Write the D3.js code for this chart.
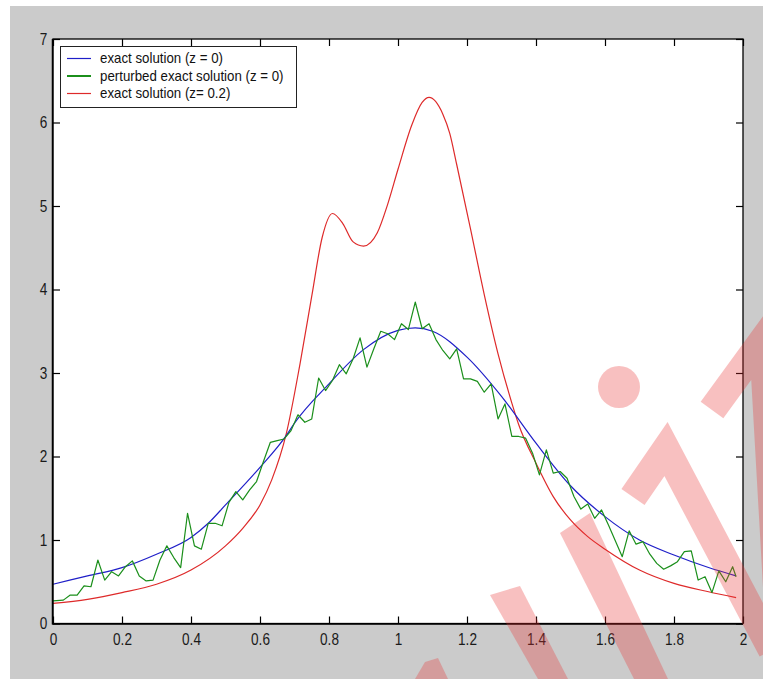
<!DOCTYPE html>
<html>
<head>
<meta charset="utf-8">
<script src="https://cdn.jsdelivr.net/npm/d3@7"></script>
<style>
  html, body { margin: 0; padding: 0; background: #ffffff; }
  svg { display: block; }
  text { font-family: "Liberation Sans", Arial, Helvetica, sans-serif; }
</style>
</head>
<body>
<svg id="chart" width="763" height="679"></svg>
<script>
// ---- data -------------------------------------------------------------
// exact solution, z = 0
const exactX = [0, 0.1, 0.2, 0.3, 0.4, 0.45, 0.5, 0.6, 0.676, 0.7, 0.8, 0.9, 1.0, 1.05, 1.1, 1.2, 1.3, 1.4, 1.5, 1.6, 1.7, 1.8, 1.9, 1.98];
const exactY = [0.47, 0.57, 0.67, 0.83, 1.03, 1.20, 1.42, 1.87, 2.25, 2.40, 2.87, 3.28, 3.51, 3.54, 3.50, 3.19, 2.72, 2.16, 1.65, 1.28, 1.00, 0.82, 0.67, 0.57];

// perturbed exact solution, z = 0
const pertX = [0.00, 0.03, 0.05, 0.07, 0.09, 0.11, 0.13, 0.15, 0.17, 0.19, 0.21, 0.23, 0.25, 0.27, 0.29,
  0.31, 0.33, 0.35, 0.37, 0.39, 0.41, 0.43, 0.45, 0.47, 0.49, 0.51, 0.53, 0.55, 0.57, 0.59,
  0.61, 0.63, 0.65, 0.67, 0.69, 0.71, 0.73, 0.75, 0.77, 0.79, 0.81, 0.83, 0.85, 0.87, 0.89,
  0.91, 0.93, 0.95, 0.97, 0.99, 1.01, 1.03, 1.05, 1.07, 1.09, 1.11, 1.13, 1.15, 1.17, 1.19,
  1.21, 1.23, 1.25, 1.27, 1.29, 1.31, 1.33, 1.35, 1.37, 1.39, 1.41, 1.43, 1.45, 1.47, 1.49,
  1.51, 1.53, 1.55, 1.57, 1.59, 1.61, 1.65, 1.67, 1.69, 1.71, 1.73, 1.75, 1.77, 1.79, 1.81,
  1.83, 1.85, 1.87, 1.89, 1.91, 1.93, 1.95, 1.97, 1.98];
const pertY = [0.27, 0.28, 0.34, 0.34, 0.45, 0.44, 0.76, 0.52, 0.62, 0.57, 0.68, 0.75, 0.57, 0.51, 0.52,
  0.76, 0.93, 0.79, 0.67, 1.32, 0.93, 0.89, 1.20, 1.20, 1.17, 1.45, 1.58, 1.48, 1.60, 1.70,
  1.94, 2.17, 2.19, 2.21, 2.31, 2.50, 2.41, 2.45, 2.94, 2.79, 2.91, 3.10, 2.99, 3.17, 3.42,
  3.07, 3.29, 3.50, 3.47, 3.40, 3.59, 3.52, 3.85, 3.53, 3.59, 3.40, 3.27, 3.17, 3.29, 2.93,
  2.93, 2.90, 2.77, 2.87, 2.45, 2.63, 2.24, 2.24, 2.22, 2.04, 1.78, 2.08, 1.80, 1.82, 1.74,
  1.52, 1.37, 1.43, 1.26, 1.36, 1.18, 0.80, 1.11, 0.95, 0.98, 0.83, 0.72, 0.65, 0.69, 0.74,
  0.86, 0.87, 0.52, 0.56, 0.37, 0.63, 0.50, 0.68, 0.56];

// exact solution, z = 0.2
const shiftedX = [0, 0.1, 0.2, 0.3, 0.4, 0.5, 0.55, 0.6, 0.634, 0.676, 0.716, 0.75, 0.78, 0.81, 0.84, 0.87, 0.9, 0.94, 0.97,
  1.0, 1.04, 1.07, 1.09, 1.13, 1.15, 1.17, 1.21, 1.25, 1.29, 1.33, 1.35, 1.4, 1.45, 1.5, 1.55, 1.6, 1.7, 1.8, 1.9, 1.98];
const shiftedY = [0.24, 0.29, 0.37, 0.47, 0.64, 0.93, 1.14, 1.42, 1.72, 2.27, 3.11, 3.92, 4.62, 4.91, 4.79, 4.57, 4.52, 4.68, 5.02,
  5.44, 5.97, 6.24, 6.30, 6.10, 5.87, 5.50, 4.73, 3.94, 3.23, 2.64, 2.38, 1.92, 1.52, 1.24, 1.04, 0.89, 0.64, 0.48, 0.38, 0.31];

const xTicks = [0, 0.2, 0.4, 0.6, 0.8, 1, 1.2, 1.4, 1.6, 1.8, 2];
const yTicks = [0, 1, 2, 3, 4, 5, 6, 7];

const seriesNames = ["exact solution (z = 0)", "perturbed exact solution (z = 0)", "exact solution (z= 0.2)"];
const seriesColors = ["#1f1fc8", "#1b8f1b", "#de2a2a"];

// ---- layout -----------------------------------------------------------
const svg = d3.select("#chart");
const W = 763, H = 679;
const box = { left: 53, right: 743, top: 39, bottom: 623.5 };

const x = d3.scaleLinear().domain([0, 2]).range([box.left, box.right]);
const y = d3.scaleLinear().domain([0, 7]).range([box.bottom, box.top]);

// figure background
svg.append("rect").attr("x", 10).attr("y", 6).attr("width", W - 10).attr("height", H - 6).attr("fill", "#cbcbcb");
// axes background
svg.append("rect").attr("x", box.left).attr("y", box.top)
  .attr("width", box.right - box.left).attr("height", box.bottom - box.top).attr("fill", "#ffffff");

// ---- curves -----------------------------------------------------------
const smooth = d3.line().x(d => x(d[0])).y(d => y(d[1])).curve(d3.curveMonotoneX);
const straight = d3.line().x(d => x(d[0])).y(d => y(d[1]));

const plot = svg.append("g");
plot.append("path").datum(d3.zip(shiftedX, shiftedY)).attr("d", smooth)
  .attr("fill", "none").attr("stroke", seriesColors[2]).attr("stroke-width", 1.2);
plot.append("path").datum(d3.zip(exactX, exactY)).attr("d", smooth)
  .attr("fill", "none").attr("stroke", seriesColors[0]).attr("stroke-width", 1.2);
plot.append("path").datum(d3.zip(pertX, pertY)).attr("d", straight)
  .attr("fill", "none").attr("stroke", seriesColors[1]).attr("stroke-width", 1.2)
  .attr("stroke-linejoin", "round");

// ---- axes (ticks point inward on all four sides) -----------------------
const fmt = d => String(d);
const gx = svg.append("g").attr("transform", `translate(0,${box.bottom})`)
  .call(d3.axisBottom(x).tickValues(xTicks).tickFormat(fmt).tickSizeInner(-7).tickSizeOuter(0).tickPadding(9));
const gxTop = svg.append("g").attr("transform", `translate(0,${box.top})`)
  .call(d3.axisTop(x).tickValues(xTicks).tickFormat("").tickSizeInner(-7).tickSizeOuter(0));
const gy = svg.append("g").attr("transform", `translate(${box.left},0)`)
  .call(d3.axisLeft(y).tickValues(yTicks).tickFormat(fmt).tickSizeInner(-7).tickSizeOuter(0).tickPadding(7));
const gyRight = svg.append("g").attr("transform", `translate(${box.right},0)`)
  .call(d3.axisRight(y).tickValues(yTicks).tickFormat("").tickSizeInner(-7).tickSizeOuter(0));

[gx, gxTop, gy, gyRight].forEach(g => {
  g.select(".domain").remove();
  g.selectAll(".tick line").attr("stroke", "#000").attr("stroke-width", 1.2);
});
gx.selectAll(".tick text").attr("font-size", 17).attr("fill", "#1a1a1a")
  .attr("font-family", "'Liberation Sans', Arial, sans-serif").attr("transform", "scale(0.8,1)");
gy.selectAll(".tick text").attr("font-size", 17).attr("fill", "#1a1a1a")
  .attr("font-family", "'Liberation Sans', Arial, sans-serif").attr("transform", "scale(0.8,1)");

// axes frame
svg.append("rect").attr("x", box.left).attr("y", box.top)
  .attr("width", box.right - box.left).attr("height", box.bottom - box.top)
  .attr("fill", "none").attr("stroke", "#000").attr("stroke-width", 1.3);
svg.append("line").attr("x1", box.left - 0.5).attr("x2", box.right).attr("y1", box.bottom + 0.5).attr("y2", box.bottom + 0.5)
  .attr("stroke", "#000").attr("stroke-width", 1.5);
svg.append("line").attr("x1", box.left - 0.5).attr("x2", box.left - 0.5).attr("y1", box.top).attr("y2", box.bottom + 1)
  .attr("stroke", "#000").attr("stroke-width", 1.5);

// ---- legend ---------------------------------------------------------------
const legend = svg.append("g").attr("transform", "translate(60,46)");
legend.append("rect").attr("x", 0.5).attr("y", 0.5).attr("width", 236).attr("height", 61)
  .attr("fill", "#fff").attr("stroke", "#222").attr("stroke-width", 1);
const rows = legend.selectAll("g.row").data(seriesNames).join("g")
  .attr("class", "row").attr("transform", (d, i) => `translate(0,${12.5 + i * 17.5})`);
rows.append("line").attr("x1", 7).attr("x2", 31).attr("y1", 0).attr("y2", 0)
  .attr("stroke", (d, i) => seriesColors[i]).attr("stroke-width", (d, i) => i === 1 ? 2 : 1.2);
rows.append("text").attr("x", 40 / 0.95).attr("y", 0).attr("dy", "0.35em")
  .attr("font-size", 14).attr("fill", "#111").attr("transform", "scale(0.95,1)")
  .text(d => d);

// ---- watermark --------------------------------------------------------------
const mark = svg.append("g").attr("fill", "rgb(235,50,50)").attr("stroke", "rgb(235,50,50)")
  .attr("opacity", 0.3);
mark.append("circle").attr("cx", 619).attr("cy", 387).attr("r", 21).attr("stroke", "none");
mark.append("polyline").attr("points", "633,497 666,449 772,650")
  .attr("fill", "none").attr("stroke-width", 28).attr("stroke-linejoin", "miter");
mark.append("polyline").attr("points", "712,410 763,340 780,640")
  .attr("fill", "none").attr("stroke-width", 28).attr("stroke-linejoin", "miter");
mark.append("polygon").attr("points", "560,533 590,513 668,679 634,679").attr("stroke", "none");
mark.append("polygon").attr("points", "490,595 520,586 568,679 538,679").attr("stroke", "none");
mark.append("polygon").attr("points", "415,679 425,662 438,658 448,679").attr("stroke", "none");
</script>
</body>
</html>
